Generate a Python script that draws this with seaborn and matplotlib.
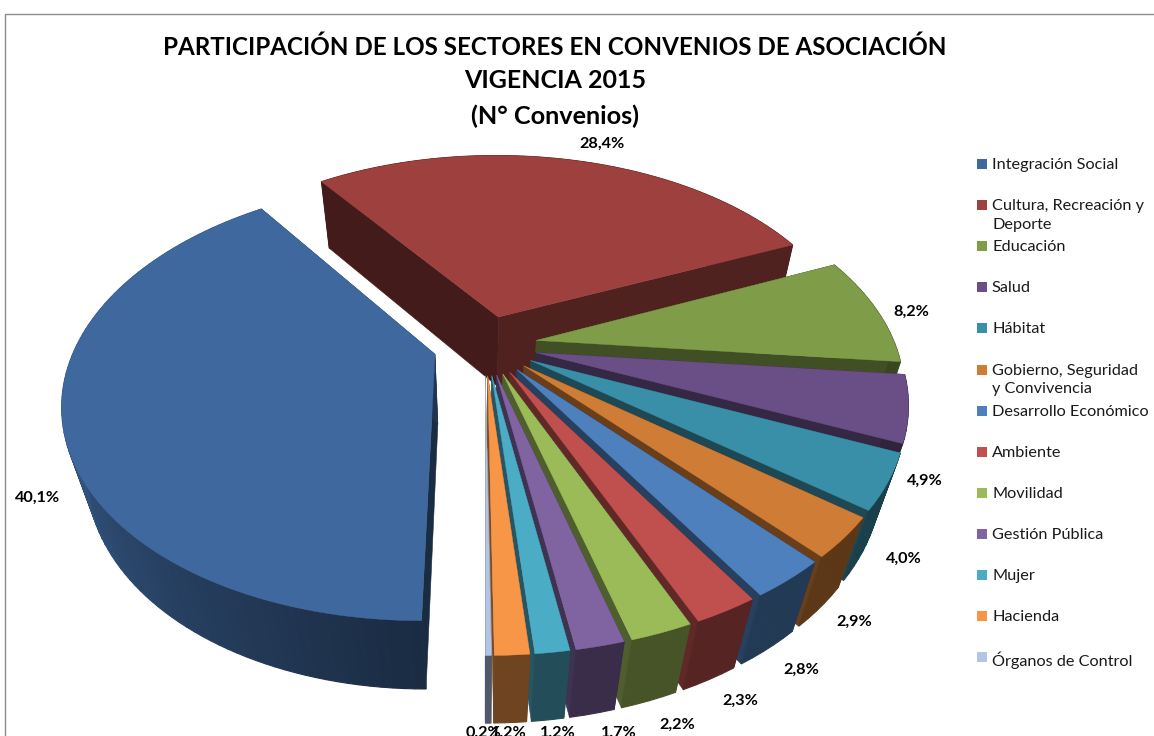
import numpy as np
import matplotlib
matplotlib.use("Agg")
import matplotlib.pyplot as plt
import seaborn as sns

# ----------------- Data -----------------
sectors = ["Integración Social", "Cultura, Recreación y\nDeporte", "Educación", "Salud", "Hábitat",
           "Gobierno, Seguridad\ny Convivencia", "Desarrollo Económico", "Ambiente", "Movilidad",
           "Gestión Pública", "Mujer", "Hacienda", "Órganos de Control"]
shares = [40.1, 28.4, 8.2, 4.9, 4.0, 2.9, 2.8, 2.3, 2.2, 1.7, 1.2, 1.2, 0.2]
title_lines = ["PARTICIPACIÓN DE LOS SECTORES EN CONVENIOS DE ASOCIACIÓN", "VIGENCIA 2015", "(N° Convenios)"]

colors = sns.color_palette(["#3F689E", "#9E413E", "#7F9D48", "#6A4F87", "#3A8FA8", "#CF7C36", "#4E80BD",
                            "#C0504D", "#9BBB59", "#8064A2", "#4BACC6", "#F79646", "#B3C4E4"])

# where the percent labels sit in the picture (pixels)
label_x = [38, 602, 911, 925, 904, 854, 801, 740, 677, 619, 558, 509, 483]
label_y = [498, 144, 312, 481, 559, 622, 670, 701, 725, 733, 733, 733, 733]

# ----------------- Perspective of the pie -----------------
CX, CY = 485, 345
RX, RY = 359, 206
K, M = 0.21, 0.06
DZ = 74
EXPLODE = 0.145
START = 270


def project(x, y, z):
    w = 1 + K * y + M * z
    return CX + RX * x / w, CY + (-RY * y + DZ * z) / w


def shade(c, f):
    return tuple(v * f for v in c)


def draw_slice(ax, a1, a2, color, gradient=False):
    mid = np.radians((a1 + a2) / 2)
    ox, oy = EXPLODE * np.cos(mid), EXPLODE * np.sin(mid)
    th = np.radians(np.linspace(a1, a2, max(int(abs(a2 - a1) / 1.5), 4)))
    x = ox + np.cos(th)
    y = oy + np.sin(th)

    def wall(i):
        f = 0.45
        if gradient:
            f = np.interp(np.degrees(th[i]), [126, 200, 270], [0.8, 0.8, 0.42])
        p = [project(x[i], y[i], 0), project(x[i + 1], y[i + 1], 0),
             project(x[i + 1], y[i + 1], 1), project(x[i], y[i], 1)]
        ax.fill(*zip(*p), color=shade(color, f), lw=0.8)

    # outer wall facing away goes first, the cut faces hide it
    for i in range(len(th) - 1):
        if np.sin(th[i]) >= 0:
            wall(i)

    for i, f in [(0, 0.42), (-1, 0.5)]:
        p = [project(ox, oy, 0), project(x[i], y[i], 0), project(x[i], y[i], 1), project(ox, oy, 1)]
        ax.fill(*zip(*p), color=shade(color, f), lw=0.4)

    for i in range(len(th) - 1):
        if np.sin(th[i]) < 0:
            wall(i)

    # top face
    top = [project(ox, oy, 0)] + [project(a, b, 0) for a, b in zip(x, y)]
    ax.fill(*zip(*top), color=color, lw=0.3)


sns.set_theme(style="white")
plt.rcParams["font.family"] = ["Lato", "DejaVu Sans"]

fig = plt.figure(figsize=(11.54, 7.36), dpi=100)
ax = fig.add_axes([0, 0, 1, 1])
ax.set_xlim(0, 1154)
ax.set_ylim(736, 0)
ax.axis("off")

# chart frame, cut off by the picture on the right and bottom
ax.plot([5, 5, 1154], [736, 14, 14], color="#8c8c8c", lw=1)

# ----------------- Slices -----------------
total = sum(shares)
edges = START - np.cumsum([0] + shares) / total * 360
for i in range(len(shares)):
    draw_slice(ax, edges[i], edges[i + 1], colors[i], gradient=(i == 0))

# ----------------- Text -----------------
for line, yy, size in zip(title_lines, [47, 81, 116], [17.4, 18, 18.2]):
    ax.text(555, yy, line, ha="center", va="center", fontsize=size, fontweight="bold", color="black")

for s, lx, ly in zip(shares, label_x, label_y):
    ax.text(lx, ly, f"{s:.1f}%".replace(".", ","), ha="center", va="center",
            fontsize=11.7, fontweight="bold", color="black")

for i, name in enumerate(sectors):
    yy = 164 + 41.1 * i
    ax.scatter([982], [yy], marker="s", s=52, color=colors[i], linewidths=0)
    ax.text(992, yy - 6, name, ha="left", va="top", fontsize=11.7, color="#1a1a1a", linespacing=1.45)

fig.savefig("out.png", dpi=100)
